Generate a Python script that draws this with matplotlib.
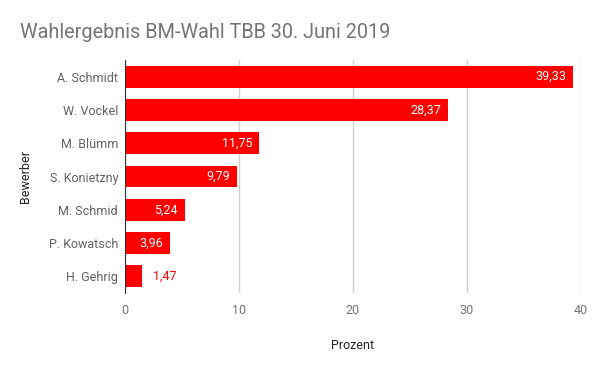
import matplotlib.pyplot as plt

plt.rcParams['font.family'] = ['Roboto', 'DejaVu Sans']

names = ['A. Schmidt', 'W. Vockel', 'M. Blümm', 'S. Konietzny', 'M. Schmid', 'P. Kowatsch', 'H. Gehrig']
values = [39.33, 28.37, 11.75, 9.79, 5.24, 3.96, 1.47]
xticks = [0, 10, 20, 30, 40]

fig = plt.figure(figsize=(6, 3.71), dpi=100)
ax = fig.add_axes([125/600, 1 - 293/371, 456/600, 233/371])

pos = list(range(len(names)))
bars = ax.barh(pos, values, height=0.66, color='#ff0000', zorder=3)
ax.set_ylim(len(names) - 0.5, -0.5)
ax.set_xlim(0, 40)

for b, v in zip(bars, values):
    txt = f'{v:.2f}'.replace('.', ',')
    y = b.get_y() + b.get_height() / 2
    if v > 3:
        ax.text(v - 0.6, y, txt, ha='right', va='center', color='white', fontsize=9, zorder=4)
    else:
        ax.text(v + 1, y, txt, ha='left', va='center', color='#ff0000', fontsize=9, zorder=4)

ax.set_yticks(pos)
ax.set_yticklabels(names, color='#616161', fontsize=9)
ax.set_xticks(xticks)
ax.set_xticklabels([str(t) for t in xticks], color='#757575', fontsize=9)
ax.tick_params(axis='both', length=0, pad=8)
ax.tick_params(axis='y', pad=5)
ax.grid(axis='x', color='#d0d0d0', linewidth=1, zorder=0)
for s in ['top', 'right', 'bottom']:
    ax.spines[s].set_visible(False)
ax.spines['left'].set_color('#333333')
ax.spines['left'].set_zorder(5)

ax.set_xlabel('Prozent', color='#222222', fontsize=9, labelpad=16)
ax.set_ylabel('Bewerber', color='#222222', fontsize=9, labelpad=12)

fig.text(20/600, 1 - 32/371, 'Wahlergebnis BM-Wahl TBB 30. Juni 2019', fontsize=14.3,
         color='#757575', va='center', ha='left')

fig.savefig('out.png', dpi=100)
